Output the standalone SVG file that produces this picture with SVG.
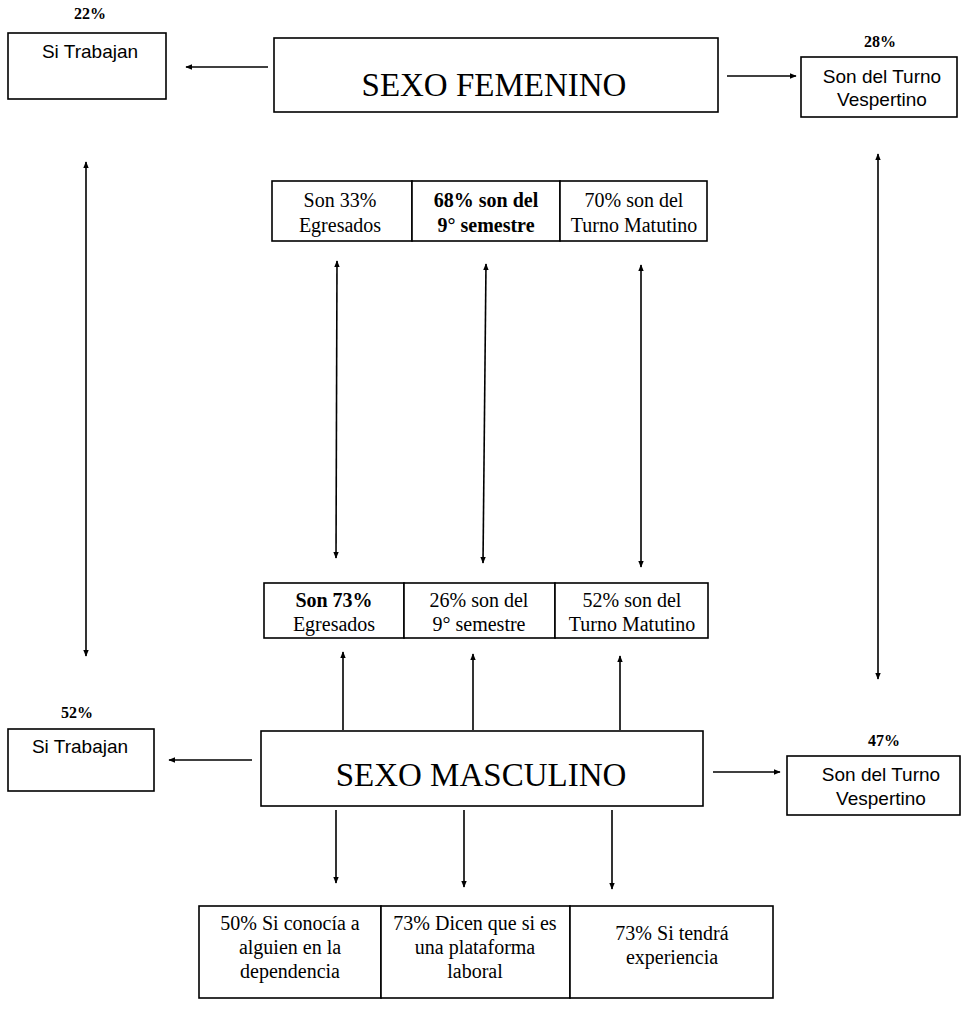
<svg xmlns="http://www.w3.org/2000/svg" width="978" height="1012" viewBox="0 0 978 1012">
<style>
  .box { fill: #fff; stroke: #000; stroke-width: 1.6; }
  .t { font-family: "Liberation Serif", "Times New Roman", serif; font-size: 20px; fill: #000; text-anchor: middle; }
  .s { font-family: "Liberation Sans", Arial, sans-serif; font-size: 19px; fill: #000; text-anchor: middle; }
  .p { font-family: "Liberation Serif", "Times New Roman", serif; font-size: 16px; font-weight: bold; fill: #000; text-anchor: middle; }
  .b { font-weight: bold; }
  .big { font-family: "Liberation Serif", "Times New Roman", serif; font-size: 33px; fill: #000; text-anchor: middle; }
  .c { stroke: #000; stroke-width: 1.6; fill: none; marker-end: url(#ah); }
  .d { marker-start: url(#ahs); }
</style>
<defs>
  <marker id="ah" viewBox="0 0 10 10" refX="9" refY="5" markerWidth="7" markerHeight="7" orient="auto" markerUnits="userSpaceOnUse">
    <path d="M0,1 L10,5 L0,9 z" fill="#000"/>
  </marker>
  <marker id="ahs" viewBox="0 0 10 10" refX="1" refY="5" markerWidth="7" markerHeight="7" orient="auto" markerUnits="userSpaceOnUse">
    <path d="M10,1 L0,5 L10,9 z" fill="#000"/>
  </marker>
</defs>
<rect width="978" height="1012" fill="#fff"/>

<g id="fem">
  <rect class="box" x="274" y="38" width="444" height="74"/>
  <text class="big" x="494" y="96">SEXO FEMENINO</text>
</g>
<g id="fem-trabajan">
  <text class="p" x="90" y="19">22%</text>
  <rect class="box" x="8" y="33" width="158" height="66"/>
  <text class="s" x="90" y="58">Si Trabajan</text>
</g>
<g id="fem-vespertino">
  <text class="p" x="880" y="47">28%</text>
  <rect class="box" x="801" y="57" width="156" height="60"/>
  <text class="s" x="882" y="83">Son del Turno</text>
  <text class="s" x="882" y="106">Vespertino</text>
</g>
<g id="fem-row">
  <rect class="box" x="272" y="181" width="140" height="60"/>
  <rect class="box" x="412" y="181" width="148" height="60"/>
  <rect class="box" x="560" y="181" width="147" height="60"/>
  <text class="t" x="340" y="207">Son 33%</text>
  <text class="t" x="340" y="232">Egresados</text>
  <text class="t b" x="486" y="207">68% son del</text>
  <text class="t b" x="486" y="232">9° semestre</text>
  <text class="t" x="634" y="207">70% son del</text>
  <text class="t" x="634" y="232">Turno Matutino</text>
</g>
<g id="masc-row">
  <rect class="box" x="264" y="583" width="140" height="55"/>
  <rect class="box" x="404" y="583" width="151" height="55"/>
  <rect class="box" x="555" y="583" width="153" height="55"/>
  <text class="t b" x="334" y="607">Son 73%</text>
  <text class="t" x="334" y="631">Egresados</text>
  <text class="t" x="479" y="607">26% son del</text>
  <text class="t" x="479" y="631">9° semestre</text>
  <text class="t" x="632" y="607">52% son del</text>
  <text class="t" x="632" y="631">Turno Matutino</text>
</g>
<g id="masc">
  <rect class="box" x="261" y="731" width="442" height="75"/>
  <text class="big" x="481" y="786">SEXO MASCULINO</text>
</g>
<g id="masc-trabajan">
  <text class="p" x="77" y="718">52%</text>
  <rect class="box" x="8" y="729" width="146" height="62"/>
  <text class="s" x="80" y="753">Si Trabajan</text>
</g>
<g id="masc-vespertino">
  <text class="p" x="884" y="746">47%</text>
  <rect class="box" x="787" y="756" width="173" height="59"/>
  <text class="s" x="881" y="781">Son del Turno</text>
  <text class="s" x="881" y="805">Vespertino</text>
</g>
<g id="masc-bottom">
  <rect class="box" x="199" y="906" width="182" height="92"/>
  <rect class="box" x="381" y="906" width="189" height="92"/>
  <rect class="box" x="570" y="906" width="203" height="92"/>
  <text class="t" x="290" y="930">50% Si conocía a</text>
  <text class="t" x="290" y="954">alguien en la</text>
  <text class="t" x="290" y="978">dependencia</text>
  <text class="t" x="475" y="930">73% Dicen que si es</text>
  <text class="t" x="475" y="954">una plataforma</text>
  <text class="t" x="475" y="978">laboral</text>
  <text class="t" x="672" y="940">73% Si tendrá</text>
  <text class="t" x="672" y="964">experiencia</text>
</g>

<g id="connectors">
  <line class="c" x1="268" y1="67" x2="186" y2="67"/>
  <line class="c" x1="727" y1="76" x2="796" y2="76"/>
  <line class="c d" x1="86" y1="162" x2="86" y2="656"/>
  <line class="c d" x1="878" y1="154" x2="878" y2="679"/>
  <line class="c d" x1="337" y1="261" x2="336" y2="558"/>
  <line class="c d" x1="486" y1="264" x2="483" y2="563"/>
  <line class="c d" x1="641" y1="265" x2="641" y2="567"/>
  <line class="c" x1="343" y1="730" x2="343" y2="652"/>
  <line class="c" x1="473" y1="730" x2="473" y2="654"/>
  <line class="c" x1="620" y1="730" x2="620" y2="656"/>
  <line class="c" x1="252" y1="760" x2="169" y2="760"/>
  <line class="c" x1="713" y1="772" x2="780" y2="772"/>
  <line class="c" x1="336" y1="810" x2="336" y2="883"/>
  <line class="c" x1="464" y1="810" x2="464" y2="887"/>
  <line class="c" x1="612" y1="810" x2="612" y2="889"/>
</g>
</svg>
